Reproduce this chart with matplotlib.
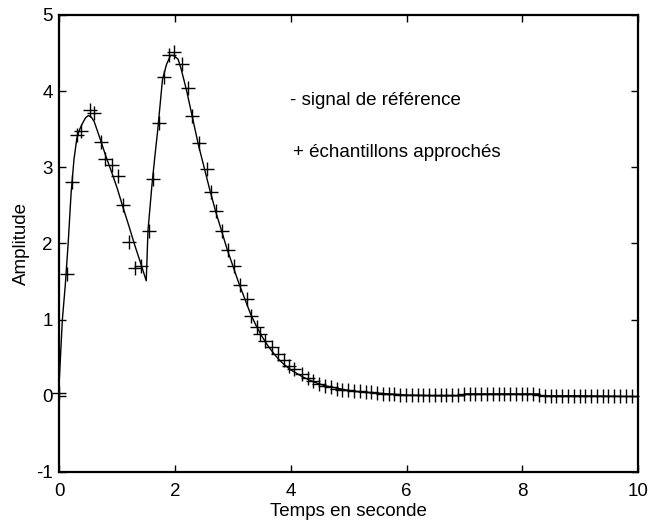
import matplotlib
matplotlib.use("Agg")
import matplotlib.pyplot as plt

plt.rcParams['font.family'] = ['Liberation Sans', 'DejaVu Sans']
plt.rcParams['axes.unicode_minus'] = False

# signal de reference (trace continu)
ref_t = [0.0, 0.05, 0.1, 0.15, 0.2, 0.25, 0.3, 0.35, 0.4, 0.45, 0.5, 0.55, 0.6,
         0.7, 0.8, 0.9, 1.0, 1.1, 1.2, 1.3, 1.4, 1.5, 1.53, 1.6, 1.65, 1.7, 1.78,
         1.85, 1.92, 1.97, 2.05, 2.1, 2.2, 2.3, 2.4, 2.5, 2.6, 2.7, 2.8, 2.9, 3.0,
         3.1, 3.2, 3.3, 3.4, 3.5, 3.6, 3.7, 3.8, 3.9, 4.0, 4.2, 4.4, 4.6, 4.8, 5.0,
         5.2, 5.5, 5.8, 6.0, 6.5, 7.0, 7.01, 8.3, 8.31, 9.0, 10.0]
ref_y = [0.25, 1.0, 1.45, 2.0, 2.65, 3.1, 3.38, 3.5, 3.58, 3.65, 3.68, 3.66, 3.6,
         3.38, 3.15, 2.94, 2.72, 2.47, 2.23, 1.98, 1.75, 1.51, 2.17, 2.78, 3.15,
         3.5, 4.15, 4.35, 4.47, 4.47, 4.42, 4.3, 4.0, 3.65, 3.3, 3.0, 2.7, 2.42,
         2.17, 1.92, 1.7, 1.48, 1.28, 1.08, 0.92, 0.78, 0.66, 0.56, 0.47, 0.4, 0.34,
         0.25, 0.18, 0.13, 0.1, 0.07, 0.05, 0.035, 0.02, 0.01, 0.0, 0.0, 0.025,
         0.025, 0.0, 0.0, -0.01]

# echantillons approches (marqueurs +)
ech_t = [0.0, 0.125, 0.21, 0.31, 0.38, 0.52, 0.60, 0.71, 0.79, 0.90, 1.02, 1.10,
         1.20, 1.31, 1.41, 1.54, 1.61, 1.72, 1.80, 1.90, 1.98, 2.12, 2.22, 2.29,
         2.42, 2.55, 2.62, 2.71, 2.81, 2.91, 3.01, 3.12, 3.24, 3.31, 3.41, 3.47,
         3.56, 3.67, 3.77, 3.88, 3.97, 4.06,
         4.19, 4.29, 4.39, 4.49, 4.59, 4.69, 4.79, 4.89, 4.99, 5.09, 5.19, 5.29,
         5.39, 5.49, 5.59, 5.69, 5.79, 5.89, 5.99, 6.09, 6.19,
         6.29, 6.39, 6.49, 6.59, 6.69, 6.79, 6.89, 6.99, 7.09, 7.19, 7.29, 7.39,
         7.49, 7.59, 7.69, 7.79, 7.89, 7.99, 8.09, 8.19, 8.29,
         8.39, 8.49, 8.59, 8.69, 8.79, 8.89, 8.99, 9.09, 9.19, 9.29, 9.39, 9.49,
         9.59, 9.69, 9.79, 9.89]
ech_y = [0.04, 1.60, 2.81, 3.43, 3.48, 3.75, 3.71, 3.33, 3.11, 3.03, 2.89, 2.50,
         2.02, 1.68, 1.70, 2.16, 2.85, 3.58, 4.18, 4.48, 4.52, 4.36, 4.04, 3.67,
         3.32, 2.98, 2.68, 2.43, 2.17, 1.92, 1.70, 1.46, 1.27, 1.05, 0.90, 0.81,
         0.72, 0.64, 0.55, 0.47, 0.39, 0.35,
         0.29, 0.24, 0.20, 0.16, 0.13, 0.11, 0.09, 0.08, 0.07, 0.066, 0.057, 0.053,
         0.044, 0.04, 0.03, 0.026, 0.022, 0.017, 0.013, 0.009, 0.009,
         0.015, 0.015, 0.015, 0.015, 0.015, 0.015, 0.015, 0.02, 0.02, 0.02, 0.02,
         0.02, 0.02, 0.02, 0.02, 0.02, 0.02, 0.02, 0.02, 0.02, 0.015,
         0.0, 0.0, 0.0, 0.0, 0.0, 0.0, 0.0, 0.0, 0.0, -0.005, -0.005, -0.005,
         -0.005, -0.005, -0.005, -0.005]

x_ticks = [0, 2, 4, 6, 8, 10]
y_ticks = [-1, 0, 1, 2, 3, 4, 5]

fig = plt.figure(figsize=(6.5, 5.26), dpi=100)
ax = fig.add_axes([0.0915, 0.1027, 0.89, 0.8688])

ax.plot(ref_t, ref_y, color='black', linewidth=1.0)
ax.plot(ech_t, ech_y, linestyle='none', marker='+', color='black',
        markersize=10, markeredgewidth=1.0, clip_on=False)

ax.text(3.99, 3.88, '- signal de référence', fontsize=13.5, va='center', ha='left')
ax.text(4.03, 3.2, '+ échantillons approchés', fontsize=13.5, va='center', ha='left')

ax.set_xlim(0, 10)
ax.set_ylim(-1, 5)
ax.set_xticks(x_ticks)
ax.set_yticks(y_ticks)
ax.tick_params(direction='in', length=5, width=1, labelsize=13.5,
               top=True, right=True)
ax.tick_params(axis='x', pad=8)
ax.tick_params(axis='y', pad=5)
for s in ax.spines.values():
    s.set_linewidth(1.6)

ax.set_xlabel('Temps en seconde', fontsize=13.5, labelpad=2)
ax.set_ylabel('Amplitude', fontsize=13.5, labelpad=4)

fig.savefig('out.png', dpi=100)
